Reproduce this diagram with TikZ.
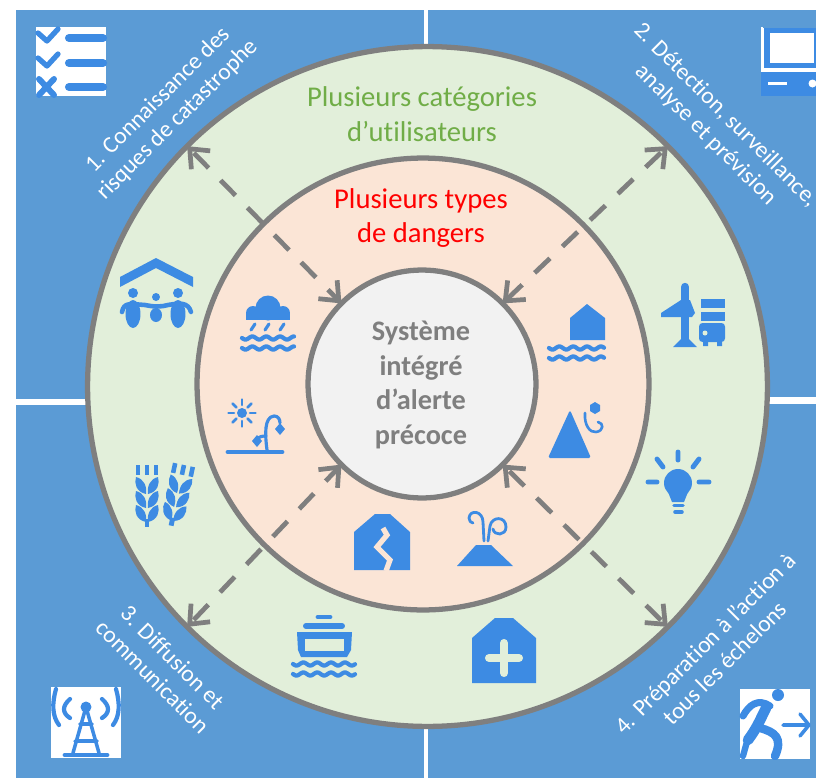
\documentclass[tikz,border=0pt]{standalone}
\usepackage{fontspec}
\setmainfont{Carlito}[Ligatures=NoCommon]
\usetikzlibrary{arrows.meta}
\definecolor{panelblue}{HTML}{5B9BD5}
\definecolor{iconblue}{HTML}{3D8BE3}
\definecolor{ringgreen}{HTML}{E2EFDA}
\definecolor{ringpeach}{HTML}{FBE5D6}
\definecolor{coregray}{HTML}{F2F2F2}
\definecolor{edgegray}{HTML}{7F7F7F}
\definecolor{titlegreen}{HTML}{70AD47}
\tikzset{
  ring/.style={circle, draw=edgegray, line width=3pt, inner sep=0pt, outer sep=0pt},
  link/.style={draw=edgegray, line width=2.7pt, dash pattern=on 12pt off 9.8pt, dash phase=19.8pt,
    {Straight Barb[length=9pt,width=15pt,line width=2.7pt]}-{Straight Barb[length=9pt,width=15pt,line width=2.7pt]}},
  steplabel/.style={white, align=center, font=\fontsize{13.4}{15.8}\selectfont},
  icon/.style={fill=iconblue, draw=none},
  iconline/.style={draw=iconblue, line width=#1, line cap=round, line join=round},
  iconline/.default=2.4pt,
}
\newcommand{\wavy}[3]{\draw[iconline, domain=#1:#2, samples=40, smooth] plot (\x, {#3+1.6*sin(26*(\x-#1))});}
\newcommand{\wheatstalk}[3]{
  \begin{scope}[shift={(#1,#2)}, rotate=#3]
    \foreach \xx in {-9,0,9} \draw[iconline=2.6pt, line cap=butt] (\xx,0) -- (\xx,10);
    \foreach \yy in {13,27,41} {
      \fill[icon] (-1,\yy+16) .. controls (-11,\yy+14) and (-13,\yy+5) .. (-11,\yy-1) .. controls (-3,\yy+1) and (0,\yy+8) .. (-1,\yy+16);
      \fill[icon] (1,\yy+16) .. controls (11,\yy+14) and (13,\yy+5) .. (11,\yy-1) .. controls (3,\yy+1) and (0,\yy+8) .. (1,\yy+16);
    }
    \draw[iconline=2.8pt, line cap=butt] (0,54) -- (0,62);
  \end{scope}
}
\begin{document}
\begin{tikzpicture}[x=0.02cm, y=-0.02cm]
\useasboundingbox (0,0) rectangle (816,778);
% panels
\fill[panelblue] (16,10) rectangle (424,399);
\fill[panelblue] (428,10) rectangle (816,397);
\fill[panelblue] (16,405) rectangle (424,778);
\fill[panelblue] (428,404) rectangle (816,778);
% rings
\node[ring, fill=ringgreen, minimum size=13.6cm] (users) at (427.5,386.5) {};
\node[ring, fill=ringpeach, minimum size=9.04cm] (hazards) at (423,384) {};
\node[ring, fill=coregray, minimum size=4.56cm] (core) at (422,384) {};
\node[text=edgegray, align=center, font=\fontsize{16.1}{19.8}\selectfont\bfseries] (coretitle) at (421,385) {Système\\intégré\\d’alerte\\précoce};
\node[text=titlegreen, align=center, font=\fontsize{16.3}{19.8}\selectfont] (userstitle) at (422,114) {Plusieurs catégories\\d’utilisateurs};
\node[text=red, align=center, font=\fontsize{16.3}{19.4}\selectfont] (hazardstitle) at (421,218) {Plusieurs types\\de dangers};
% arrows
\draw[link] (users.135) -- (core.135);
\draw[link] (users.45) -- (core.45);
\draw[link] (users.225) -- (core.225);
\draw[link] (users.315) -- (core.315);
% step labels
\node[steplabel, rotate=45] (stepone) at (168,110) {1. Connaissance des\\risques de catastrophe};
\node[steplabel, rotate=-45] (steptwo) at (716,125) {2. Détection, surveillance,\\analyse et prévision};
\node[steplabel, rotate=-45] (stepthree) at (163,667) {3. Diffusion et\\communication};
\node[steplabel, rotate=45] (stepfour) at (715,653) {4. Préparation à l’action à\\tous les échelons};
% checklist
\fill[white] (36,27) rectangle (106,96);
\foreach \yy in {38,63} {
  \draw[iconline=3pt] (38,\yy-5) -- (47,\yy+3) -- (58,\yy-9);
  \draw[iconline=4.6pt] (69,\yy) -- (103,\yy);
}
\draw[iconline=3.4pt] (39,79) -- (54,95) (54,79) -- (39,95);
\draw[iconline=4.6pt] (69,87) -- (103,87);
% computer
\fill[white] (761,27) rectangle (816,96);
\fill[panelblue] (763,26) rectangle (816,28);
\fill[iconblue] (764,28) rectangle (816,68);
\fill[white] (770,33) rectangle (814,63);
\fill[iconblue] (761,72) rectangle (816,96);
\draw[white, line width=1.4pt] (768,83.5) -- (787,83.5);
\fill[white] (812.5,83.5) circle[radius=0.08cm];
% tower
\fill[white] (51,687) rectangle (121,758);
\draw[iconline=2pt] (86,707) -- (73,753) (86,707) -- (99,753) (80,724) -- (92,724) (75,741) -- (97,741);
\fill[iconblue] (86,707) circle[radius=0.11cm];
\draw[iconline=2.8pt] (65,755) -- (107,755);
\draw[iconline=2.4pt] (56,689) .. controls (52,703) and (52,716) .. (59,725);
\draw[iconline=2.4pt] (116,689) .. controls (120,703) and (120,716) .. (113,725);
\draw[iconline=2.4pt] (70,699) .. controls (62,706) and (62,713) .. (70,718);
\draw[iconline=2.4pt] (102,699) .. controls (110,706) and (110,713) .. (102,718);
% runner
\fill[white] (740,689) rectangle (810,759);
\fill[iconblue] (778,695) circle[radius=0.12cm];
\draw[iconline=4pt] (743,716) .. controls (749,705) and (758,698) .. (770,706);
\draw[iconline=6pt] (766,708) .. controls (760,720) and (757,728) .. (748,740);
\draw[iconline=3.6pt] (748,738) -- (743,756);
\draw[iconline=4.8pt] (760,728) .. controls (775,732) and (783,738) .. (775,756);
\draw[iconline=2pt] (783,725) -- (808,725) (800,714) -- (809,725) -- (800,736);
% family
\fill[icon] (120,277) -- (156,258) -- (193,277) -- (193,287) -- (156,268) -- (120,287) -- cycle;
\fill[iconblue] (133,293) circle[radius=0.1cm] (156,297) circle[radius=0.08cm] (178,293) circle[radius=0.1cm];
\draw[iconline=2.6pt] (122,312) .. controls (124,302) and (130,304) .. (145,305) .. controls (155,307) and (160,307) .. (168,305) .. controls (180,303) and (188,302) .. (191,312);
\fill[iconblue] (133,314) ellipse[x radius=0.15cm, y radius=0.28cm] (156,315) ellipse[x radius=0.12cm, y radius=0.14cm] (178,314) ellipse[x radius=0.15cm, y radius=0.28cm];
% rain
\fill[iconblue] (268,308) circle[radius=0.25cm] (253,313) circle[radius=0.14cm] (283,313) circle[radius=0.14cm];
\fill[iconblue] (246,313) rectangle (290,320);
\foreach \xx in {253,267,282} \draw[iconline=1.8pt] (\xx+2,324) -- (\xx-2,330);
\wavy{242}{294}{338}
\wavy{242}{294}{348}
% drought
\fill[iconblue] (242,413) circle[radius=0.1cm];
\foreach \aa in {0,45,...,315} \draw[iconline=1.5pt] ([shift={(\aa:0.16cm)}]242,413) -- ([shift={(\aa:0.27cm)}]242,413);
\draw[iconline=2.8pt] (228,452) -- (282,452);
\draw[iconline=1.8pt] (267,450) .. controls (265,435) and (264,417) .. (274,416) .. controls (278,416) and (280,419) .. (280,423);
\draw[iconline=1.8pt] (266,436) .. controls (262,436) and (259,437) .. (258,438);
\fill[icon] (280,423) -- (285,429) -- (280,435) -- (275,429) -- cycle;
\fill[icon] (257,435) -- (262,441) -- (257,447) -- (252,441) -- cycle;
% quake
\fill[icon] (354,570) -- (354,532) -- (375,514) -- (390,514) -- (410,532) -- (410,570) -- cycle;
\draw[ringpeach, line width=3pt] (383,528) -- (387,535) -- (377,547) -- (390,560) -- (386,571);
% volcano
\fill[icon] (457,566) -- (476,545) -- (491,545) -- (513,566) -- cycle;
\draw[iconline=1.6pt] (484,541) -- (483,522) .. controls (483,511) and (470,509) .. (469,518) .. controls (469,521) and (471,523) .. (473,523);
\draw[iconline=1.6pt] (488,541) -- (490,526) .. controls (492,516) and (506,516) .. (506,527) .. controls (506,536) and (494,536) .. (493,529);
% hospital
\fill[icon] (472,683) -- (472,638) -- (495,618) -- (513,618) -- (536,638) -- (536,683) -- cycle;
\draw[ringgreen, line width=4.6pt, line cap=round] (489,658) -- (519,658) (504,643) -- (504,673);
% boat
\draw[iconline=2.8pt] (318,617) -- (330,617);
\draw[iconline=3.4pt] (306,626) -- (342,626);
\fill[icon] (297,632) -- (352,632) -- (351,650) -- (347,657) -- (301,657) -- (298,650) -- cycle;
\fill[ringgreen] (305,639) rectangle (344,651);
\wavy{293}{355}{664}
\wavy{293}{355}{674}
% wheat
\wheatstalk{147}{465}{0}
\wheatstalk{184}{465}{-12}
% flooded house
\fill[icon] (570,340) -- (570,318) -- (587,304) -- (605,318) -- (605,340) -- cycle;
\wavy{549}{604}{348}
\wavy{549}{604}{358}
% plane and luggage
\draw[iconline=4.8pt] (685,287) -- (685,342);
\fill[icon] (661,313) -- (681,300) -- (690,300) -- (695,313) -- (692,317) -- (661,317) -- cycle;
\fill[icon] (673,347) -- (682,338) -- (688,338) -- (697,347) -- cycle;
\fill[iconblue] (701,299) rectangle (725,308);
\fill[iconblue] (701,312) rectangle (725,321);
\fill[iconblue, rounded corners=2pt] (699,323) rectangle (725,342);
\fill[ringgreen] (705,333) circle[radius=0.05cm];
\fill[iconblue] (703,342) rectangle (708,346) (717,342) rectangle (722,346);
% mountain
\fill[icon, rounded corners=1pt] (570,410) -- (591,458) -- (548,458) -- cycle;
\fill[icon] (595,402) -- (600,405) -- (600,411) -- (595,414) -- (590,411) -- (590,405) -- cycle;
\draw[iconline=1.5pt] (585,413) .. controls (584,425) and (590,433) .. (596,432) .. controls (604,431) and (604,423) .. (598,422);
% bulb
\fill[iconblue] (678,483) circle[radius=0.28cm];
\fill[icon] (668,492) -- (688,492) -- (684,502) -- (672,502) -- cycle;
\draw[iconline=2pt] (674,505.5) -- (683,505.5) (675,512) -- (682,512);
\draw[iconline=2.8pt] (678,452) -- (678,460) (657,459) -- (663,467) (699,459) -- (693,467) (648,482) -- (657,482) (699,482) -- (709,482);
\end{tikzpicture}
\end{document}
